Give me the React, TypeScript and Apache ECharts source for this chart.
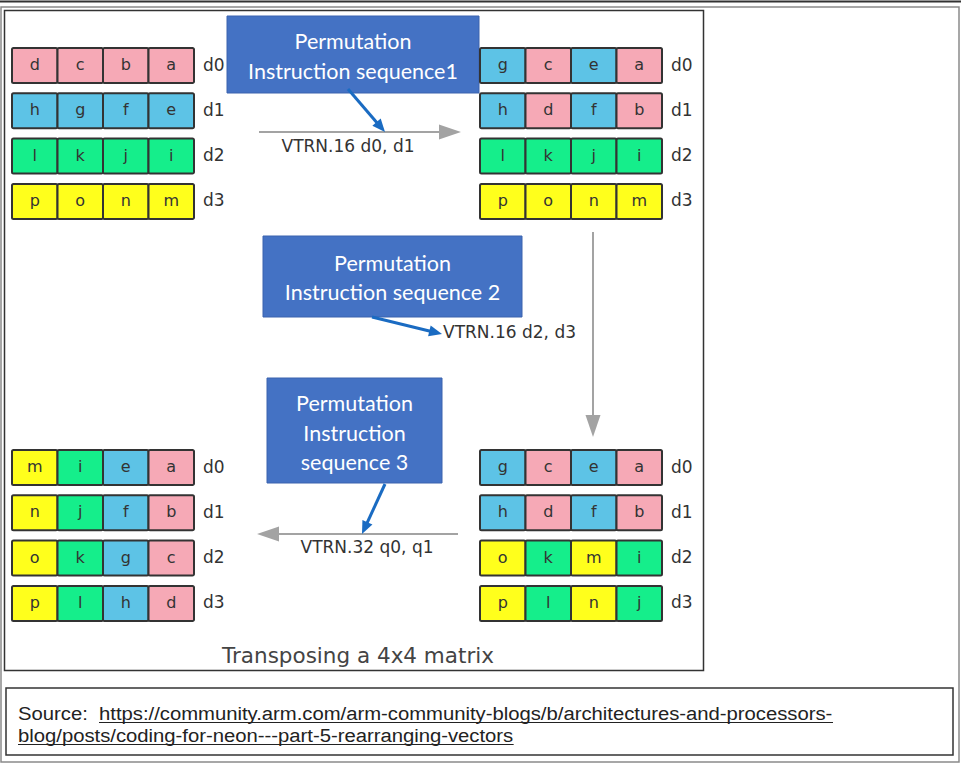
import React, { useEffect, useRef } from "react";
import * as echarts from "echarts";

// ---------- data ----------
const registerNames = ["d0", "d1", "d2", "d3"];
const stageInitial = [["d", "c", "b", "a"], ["h", "g", "f", "e"], ["l", "k", "j", "i"], ["p", "o", "n", "m"]];
const stageAfterSeq1 = [["g", "c", "e", "a"], ["h", "d", "f", "b"], ["l", "k", "j", "i"], ["p", "o", "n", "m"]];
const stageAfterSeq2 = [["g", "c", "e", "a"], ["h", "d", "f", "b"], ["o", "k", "m", "i"], ["p", "l", "n", "j"]];
const stageFinal = [["m", "i", "e", "a"], ["n", "j", "f", "b"], ["o", "k", "g", "c"], ["p", "l", "h", "d"]];
const stages = [stageInitial, stageAfterSeq1, stageAfterSeq2, stageFinal];
// element colour by original register: a-d, e-h, i-l, m-p
const sourceRowColors = ["#F6A9B6", "#5DC3E6", "#15EE8B", "#FFFF1C"];
const instructionLabels = ["VTRN.16 d0, d1", "VTRN.16 d2, d3", "VTRN.32 q0, q1"];
const stepTitles = [
  ["Permutation", "Instruction sequence1"],
  ["Permutation", "Instruction sequence 2"],
  ["Permutation", "Instruction", "sequence 3"],
];
const diagramTitle = "Transposing a 4x4 matrix";
const sourcePrefix = "Source:";
const sourceUrlLines = [
  "https://community.arm.com/arm-community-blogs/b/architectures-and-processors-",
  "blog/posts/coding-for-neon---part-5-rearranging-vectors",
];

// ---------- layout ----------
const W = 961;
const H = 766;
const STAGE_ORIGIN = [[12, 48], [480, 48], [480, 450], [12, 450]];
const CELL_W = 45.5;
const CELL_H = 35;
const ROW_PITCH = 45.3;
const LABEL_DX = 191;
const CELL_FONT = "DejaVu Sans";
const BOX_FONT = "Lato";
const SRC_FONT_SIZE = 19;
const SRC_FONT = "Liberation Sans";
const SRC_URL1_WIDTH = 734; // target rendered width of first url line (narrow face emulation)

function arrowEls(x1: number, y1: number, x2: number, y2: number, color: string, lw: number, headLen: number, headW: number) {
  const dx = x2 - x1, dy = y2 - y1;
  const len = Math.hypot(dx, dy);
  const ux = dx / len, uy = dy / len;
  const bx = x2 - ux * headLen, by = y2 - uy * headLen;
  const px = -uy, py = ux;
  return [
    { type: "line", shape: { x1, y1, x2: bx + ux, y2: by + uy }, style: { stroke: color, lineWidth: lw } },
    {
      type: "polygon",
      shape: { points: [[x2, y2], [bx + (px * headW) / 2, by + (py * headW) / 2], [bx - (px * headW) / 2, by - (py * headW) / 2]] },
      style: { fill: color },
    },
  ];
}

function textEl(text: string, x: number, y: number, size: number, family: string, fill: string, align = "center", scaleX = 1) {
  return {
    type: "text",
    x, y, scaleX, originX: 0, originY: 0,
    style: {
      text, x: 0, y: 0, fill,
      font: `${size}px "${family}"`,
      align, verticalAlign: "middle", textAlign: align, textVerticalAlign: "middle",
    },
  };
}

function measure(text: string, size: number, family: string) {
  const c = document.createElement("canvas").getContext("2d");
  if (!c) return text.length * size * 0.5;
  c.font = `${size}px "${family}"`;
  return c.measureText(text).width;
}

export default function App() {
  const ref = useRef<HTMLDivElement>(null);
  useEffect(() => {
    document.body.style.margin = "0";
    if (!ref.current) return;
    const chart = echarts.init(ref.current, undefined, { renderer: "svg" });

    const cellData: number[][] = [];
    stages.forEach((st, s) => st.forEach((row, r) => row.forEach((_, c) => cellData.push([s, r, c]))));
    const labelData: number[][] = [];
    stages.forEach((_, s) => registerNames.forEach((_, r) => labelData.push([s, r])));

    const boxes = [
      { x: 227, y: 16, w: 252, h: 77, cy: 56, lh: 30 },
      { x: 263, y: 236, w: 259, h: 81, cy: 277.5, lh: 29 },
      { x: 267, y: 378, w: 175, h: 105, cy: 432.5, lh: 29.5 },
    ];
    const graphics: any[] = [];
    // frames
    graphics.push({ type: "line", shape: { x1: 0, y1: 1.5, x2: W, y2: 1.5 }, style: { stroke: "#333", lineWidth: 2 } });
    graphics.push({ type: "rect", shape: { x: 1, y: 7, width: 958, height: 755 }, style: { fill: "none", stroke: "#8a8a8a", lineWidth: 1.5 } });
    graphics.push({ type: "rect", shape: { x: 4.5, y: 10.5, width: 699, height: 660 }, style: { fill: "none", stroke: "#333", lineWidth: 1.5 } });
    graphics.push({ type: "rect", shape: { x: 6, y: 688, width: 947, height: 67 }, style: { fill: "none", stroke: "#333", lineWidth: 1.5 } });

    // step boxes
    boxes.forEach((b, i) => {
      graphics.push({ type: "rect", shape: { x: b.x, y: b.y, width: b.w, height: b.h }, style: { fill: "#4472C4", stroke: "#3A63AE", lineWidth: 1 } });
      const lines = stepTitles[i];
      lines.forEach((t, k) => {
        const y = b.cy + (k - (lines.length - 1) / 2) * b.lh;
        graphics.push(textEl(t, b.x + b.w / 2, y, 21.5, BOX_FONT, "#fff"));
      });
    });

    // gray flow arrows
    const gray = "#a3a3a3";
    graphics.push(...arrowEls(259, 132, 461, 132, gray, 2, 22, 15));
    graphics.push(...arrowEls(593, 232, 593, 437, gray, 2, 22, 15));
    graphics.push(...arrowEls(458, 534, 257, 534, gray, 2, 22, 15));
    // blue pointers
    const blue = "#1A6BC2";
    graphics.push(...arrowEls(348, 89, 385, 132, blue, 3, 13, 11));
    graphics.push(...arrowEls(372, 317, 442, 334, blue, 3, 13, 11));
    graphics.push(...arrowEls(385, 484, 362, 534, blue, 3, 13, 11));

    // instruction labels
    graphics.push(textEl(instructionLabels[0], 348, 146, 17, CELL_FONT, "#333"));
    graphics.push(textEl(instructionLabels[1], 443, 332, 17, CELL_FONT, "#333", "left"));
    graphics.push(textEl(instructionLabels[2], 367, 547, 17, CELL_FONT, "#333"));

    // diagram title
    graphics.push(textEl(diagramTitle, 358, 655, 21.5, CELL_FONT, "#444"));

    // source (narrow face emulated by horizontal scaling)
    const sx = SRC_URL1_WIDTH / measure(sourceUrlLines[0], SRC_FONT_SIZE, SRC_FONT);
    const srcX = 18, urlX = 99;
    const lineY = [713, 735];
    graphics.push(textEl(sourcePrefix, srcX, lineY[0], SRC_FONT_SIZE, SRC_FONT, "#222", "left", sx));
    sourceUrlLines.forEach((t, i) => {
      const x = i === 0 ? urlX : srcX;
      graphics.push(textEl(t, x, lineY[i], SRC_FONT_SIZE, SRC_FONT, "#222", "left", sx));
      const w = measure(t, SRC_FONT_SIZE, SRC_FONT) * sx;
      graphics.push({ type: "line", shape: { x1: x, y1: lineY[i] + 9.5, x2: x + w, y2: lineY[i] + 9.5 }, style: { stroke: "#222", lineWidth: 1.2 } });
    });

    chart.setOption({
      animation: false,
      grid: { left: 0, right: 0, top: 0, bottom: 0 },
      xAxis: { type: "value", min: 0, max: W, show: false },
      yAxis: { type: "value", min: 0, max: H, inverse: true, show: false },
      graphic: { elements: graphics },
      series: [
        {
          type: "custom",
          data: cellData,
          silent: true,
          renderItem: (params: any, api: any) => {
            const s = api.value(0), r = api.value(1), c = api.value(2);
            const letter = stages[s][r][c];
            const [ox, oy] = STAGE_ORIGIN[s];
            const p = api.coord([ox + c * CELL_W, oy + r * ROW_PITCH]);
            const sz = api.size([CELL_W, CELL_H]);
            const w = Math.abs(sz[0]), h = Math.abs(sz[1]);
            const color = sourceRowColors[Math.floor((letter.charCodeAt(0) - 97) / 4)];
            return {
              type: "group",
              children: [
                { type: "rect", shape: { x: p[0], y: p[1], width: w, height: h, r: 1.5 }, style: { fill: color, stroke: "#333", lineWidth: 2 } },
                {
                  type: "text",
                  style: {
                    text: letter, x: p[0] + w / 2, y: p[1] + h / 2 - 1, fill: "#333",
                    font: `16px "${CELL_FONT}"`, align: "center", verticalAlign: "middle", textAlign: "center", textVerticalAlign: "middle",
                  },
                },
              ],
            };
          },
        },
        {
          type: "custom",
          data: labelData,
          silent: true,
          renderItem: (params: any, api: any) => {
            const s = api.value(0), r = api.value(1);
            const [ox, oy] = STAGE_ORIGIN[s];
            const p = api.coord([ox + LABEL_DX, oy + r * ROW_PITCH + CELL_H / 2]);
            return {
              type: "text",
              style: {
                text: registerNames[r], x: p[0], y: p[1] - 1, fill: "#333",
                font: `17px "${CELL_FONT}"`, align: "left", verticalAlign: "middle", textAlign: "left", textVerticalAlign: "middle",
              },
            };
          },
        },
      ],
    });
    return () => chart.dispose();
  }, []);
  return <div ref={ref} style={{ width: W, height: H }} />;
}
